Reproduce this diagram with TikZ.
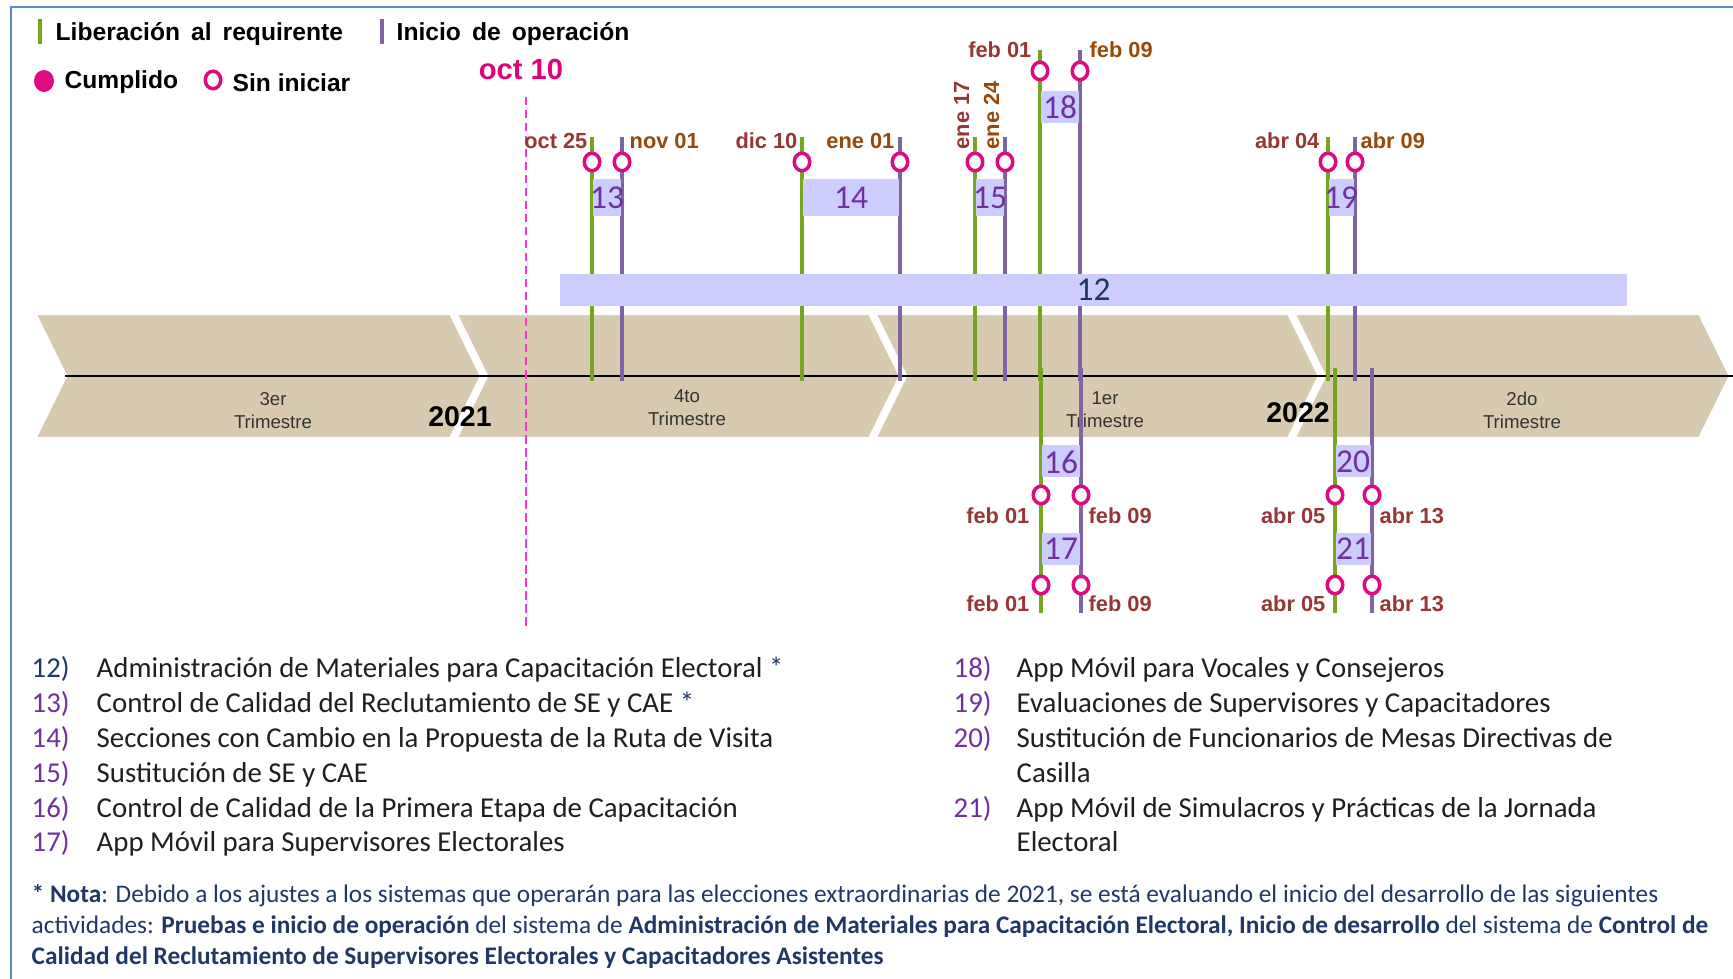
\documentclass[tikz,border=0pt]{standalone}
\usepackage{fontspec}
\setmainfont{Liberation Sans}
\newfontfamily\calibri{Carlito}
\usetikzlibrary{shapes.geometric,positioning}
\definecolor{libgreen}{HTML}{77A520}
\definecolor{opviolet}{HTML}{8064A2}
\definecolor{hitomag}{HTML}{DE0A82}
\definecolor{fechared}{HTML}{953735}
\definecolor{fechaorange}{HTML}{984807}
\definecolor{barlav}{HTML}{CCCCFF}
\definecolor{numviolet}{HTML}{7030A0}
\definecolor{navy}{HTML}{1F3864}
\definecolor{bandtan}{HTML}{D8C9B1}
\definecolor{frameblue}{HTML}{5B8BCB}
\definecolor{cutpink}{HTML}{FF33CC}
\definecolor{octmag}{HTML}{E0007A}
\tikzset{
     libstem/.style  = {libgreen, line width=1pt},
     opstem/.style   = {opviolet, line width=1pt},
     hito/.style     = {ellipse, draw=hitomag, fill=white, line width=1pt,
                        minimum width=1.55mm, minimum height=1.75mm, inner sep=0pt},
     hitodone/.style = {ellipse, fill=hitomag, minimum width=2mm,
                        minimum height=2.2mm, inner sep=0pt},
     qband/.style    = {fill=bandtan, draw=white, line width=1.2pt},
     boxnum/.style   = {font=\calibri\fontsize{9.5}{10}\selectfont, text=numviolet, inner sep=0pt},
     fechaA/.style   = {font=\bfseries\fontsize{6.2}{7}\selectfont, text=fechared, inner sep=0pt},
     fechaB/.style   = {font=\bfseries\fontsize{6.2}{7}\selectfont, text=fechaorange, inner sep=0pt},
     qlabel/.style   = {font=\fontsize{5.3}{6.6}\selectfont, text=black!80, align=center},
     anio/.style     = {font=\bfseries\fontsize{8.1}{9}\selectfont, anchor=base, inner sep=0pt},
     legend/.style   = {font=\bfseries\fontsize{7}{8}\selectfont, anchor=base west, inner sep=0pt},
     listnum/.style  = {font=\calibri\fontsize{8.2}{10}\selectfont, text=numviolet, anchor=base west, inner sep=0pt},
     listtxt/.style  = {font=\calibri\fontsize{8.2}{10}\selectfont, text=black!88, anchor=base west, inner sep=0pt},
     nota/.style     = {font=\calibri\fontsize{7.2}{8}\selectfont, text=navy, anchor=base west, inner sep=0pt},
    }

\begin{document}
\begin{tikzpicture}[x=0.1mm, y=-0.1mm]
    \path[use as bounding box] (0,0) rectangle (1733,979);
    \clip (0,0) rectangle (1733,979);
    \draw[frameblue, line width=0.7pt] (11,7) rectangle (1800,1050);

    % leyenda
    \draw[libstem] (40,19) -- (40,44);
    \node[legend] (leglib) at (55,41) {Liberación\hspace{0.45em}al\hspace{0.45em}requirente};
    \draw[opstem] (382,19) -- (382,44);
    \node[legend] (legop) at (396,41) {Inicio\hspace{0.45em}de\hspace{0.45em}operación};
    \node[hitodone] (legdone) at (44,81) {};
    \node[legend] (legdonetxt) at (64,89) {Cumplido};
    \node[hito] (legopen) at (213,80) {};
    \node[legend] (legopentxt) at (232,92) {Sin iniciar};

    % franja de trimestres
    \path[qband] (34,313) -- (451,313) -- (482,376) -- (451,439) -- (34,439) -- (65,376) -- cycle;
    \path[qband] (455,313) -- (870,313) -- (901,376) -- (870,439) -- (455,439) -- (486,376) -- cycle;
    \path[qband] (874,313) -- (1289,313) -- (1320,376) -- (1289,439) -- (874,439) -- (905,376) -- cycle;
    \path[qband] (1293,313) -- (1700,313) -- (1731,376) -- (1700,439) -- (1293,439) -- (1324,376) -- cycle;
    \draw[black, line width=0.8pt] (65,376) -- (1733,376);
    \node[qlabel] (q3) at (273,411) {3er\\Trimestre};
    \node[qlabel] (q4) at (687,408) {4to\\Trimestre};
    \node[qlabel] (q1) at (1105,410) {1er\\Trimestre};
    \node[qlabel] (q2) at (1522,410) {2do\\Trimestre};
    \node[anio] (y21) at (460,427) {2021};
    \node[anio] (y22) at (1298,423) {2022};

    % corte oct 10
    \node[font=\bfseries\fontsize{8.3}{9}\selectfont, text=octmag, anchor=base, inner sep=0pt] (oct10) at (521,80) {oct 10};
    \draw[cutpink, line width=0.7pt, dash pattern=on 2.4pt off 1.3pt] (526,97) -- (526,626);

    % tallos arriba
    \draw[libstem] (592,137) -- (592,381);
    \draw[opstem] (622,137) -- (622,381);
    \draw[libstem] (802,137) -- (802,381);
    \draw[opstem] (900,137) -- (900,381);
    \draw[libstem] (975,137) -- (975,381);
    \draw[opstem] (1005,137) -- (1005,381);
    \draw[libstem] (1040,50) -- (1040,381);
    \draw[opstem] (1080,50) -- (1080,381);
    \draw[libstem] (1328,137) -- (1328,381);
    \draw[opstem] (1355,137) -- (1355,381);
    % tallos abajo
    \draw[libstem] (1041,368) -- (1041,613);
    \draw[opstem] (1081,368) -- (1081,613);
    \draw[libstem] (1335,368) -- (1335,613);
    \draw[opstem] (1372,368) -- (1372,613);

    % actividades
    \node[fill=barlav, minimum width=106.7mm, minimum height=3.2mm, inner sep=0pt,
          font=\calibri\fontsize{9.5}{10}\selectfont, text=navy] (a12) at (1093.5,290) {12};
    \fill[barlav] (593,179) rectangle (621,216);
    \node[boxnum] (a13) at (607,198) {13};
    \fill[barlav] (803,179) rectangle (899,216);
    \node[boxnum] (a14) at (851,198) {14};
    \fill[barlav] (976,179) rectangle (1004,216);
    \node[boxnum] (a15) at (990,198) {15};
    \fill[barlav] (1041,91) rectangle (1079,123);
    \node[boxnum] (a18) at (1060,107) {18};
    \fill[barlav] (1329,179) rectangle (1354,216);
    \node[boxnum] (a19) at (1341,198) {19};
    \fill[barlav] (1042,445) rectangle (1080,477);
    \node[boxnum] (a16) at (1061,462) {16};
    \fill[barlav] (1042,533) rectangle (1080,565);
    \node[boxnum] (a17) at (1061,549) {17};
    \fill[barlav] (1336,445) rectangle (1371,477);
    \node[boxnum] (a20) at (1353,462) {20};
    \fill[barlav] (1336,533) rectangle (1371,565);
    \node[boxnum] (a21) at (1353,549) {21};

    % hitos
    \node[hito] (h13a) at (592,162) {};
    \node[hito] (h13b) at (622,162) {};
    \node[hito] (h14a) at (802,162) {};
    \node[hito] (h14b) at (900,162) {};
    \node[hito] (h15a) at (975,162) {};
    \node[hito] (h15b) at (1005,162) {};
    \node[hito] (h18a) at (1040,71) {};
    \node[hito] (h18b) at (1080,71) {};
    \node[hito] (h19a) at (1328,162) {};
    \node[hito] (h19b) at (1355,162) {};
    \node[hito] (h16a) at (1041,495) {};
    \node[hito] (h16b) at (1081,495) {};
    \node[hito] (h17a) at (1041,585) {};
    \node[hito] (h17b) at (1081,585) {};
    \node[hito] (h20a) at (1335,495) {};
    \node[hito] (h20b) at (1372,495) {};
    \node[hito] (h21a) at (1335,585) {};
    \node[hito] (h21b) at (1372,585) {};

    % fechas
    \node[fechaA, anchor=base east] (f13a) at (588,149) {oct 25};
    \node[fechaB, anchor=base west] (f13b) at (629,149) {nov 01};
    \node[fechaA, anchor=base east] (f14a) at (798,149) {dic 10};
    \node[fechaB, anchor=base east] (f14b) at (895,149) {ene 01};
    \node[fechaA, anchor=base west, rotate=90] (f15a) at (969,150) {ene 17};
    \node[fechaB, anchor=base west, rotate=90] (f15b) at (999,150) {ene 24};
    \node[fechaA, anchor=base east] (f18a) at (1032,58) {feb 01};
    \node[fechaB, anchor=base west] (f18b) at (1089,58) {feb 09};
    \node[fechaA, anchor=base east] (f19a) at (1320,149) {abr 04};
    \node[fechaB, anchor=base west] (f19b) at (1360,149) {abr 09};
    \node[fechaA, anchor=base east] (f16a) at (1030,524) {feb 01};
    \node[fechaA, anchor=base west] (f16b) at (1088,524) {feb 09};
    \node[fechaA, anchor=base east] (f17a) at (1030,612) {feb 01};
    \node[fechaA, anchor=base west] (f17b) at (1088,612) {feb 09};
    \node[fechaA, anchor=base east] (f20a) at (1326,524) {abr 05};
    \node[fechaA, anchor=base west] (f20b) at (1379,524) {abr 13};
    \node[fechaA, anchor=base east] (f21a) at (1326,612) {abr 05};
    \node[fechaA, anchor=base west] (f21b) at (1379,612) {abr 13};

    % lista de actividades
    \node[listnum, text=navy] (n12) at (31,678) {12)};
    \node[listtxt] (t12) at (96,678) {Administración de Materiales para Capacitación Electoral {\color{navy}*}};
    \node[listnum] (n13) at (31,713) {13)};
    \node[listtxt] (t13) at (96,713) {Control de Calidad del Reclutamiento de SE y CAE {\color{navy}*}};
    \node[listnum] (n14) at (31,748) {14)};
    \node[listtxt] (t14) at (96,748) {Secciones con Cambio en la Propuesta de la Ruta de Visita};
    \node[listnum] (n15) at (31,783) {15)};
    \node[listtxt] (t15) at (96,783) {Sustitución de SE y CAE};
    \node[listnum] (n16) at (31,818) {16)};
    \node[listtxt] (t16) at (96,818) {Control de Calidad de la Primera Etapa de Capacitación};
    \node[listnum] (n17) at (31,852) {17)};
    \node[listtxt] (t17) at (96,852) {App Móvil para Supervisores Electorales};
    \node[listnum] (n18) at (953,678) {18)};
    \node[listtxt] (t18) at (1016,678) {App Móvil para Vocales y Consejeros};
    \node[listnum] (n19) at (953,713) {19)};
    \node[listtxt] (t19) at (1016,713) {Evaluaciones de Supervisores y Capacitadores};
    \node[listnum] (n20) at (953,748) {20)};
    \node[listtxt] (t20) at (1016,748) {Sustitución de Funcionarios de Mesas Directivas de};
    \node[listtxt] (t20b) at (1016,783) {Casilla};
    \node[listnum] (n21) at (953,818) {21)};
    \node[listtxt] (t21) at (1016,818) {App Móvil de Simulacros y Prácticas de la Jornada};
    \node[listtxt] (t21b) at (1016,852) {Electoral};

    % nota
    \node[nota] (nota1) at (31,903) {\textbf{* Nota}: Debido a los ajustes a los sistemas que operarán para las elecciones extraordinarias de 2021, se está evaluando el inicio del desarrollo de las siguientes};
    \node[nota] (nota2) at (31,934) {actividades: \textbf{Pruebas e inicio de operación} del sistema de \textbf{Administración de Materiales para Capacitación Electoral, Inicio de desarrollo} del sistema de \textbf{Control de}};
    \node[nota] (nota3) at (31,965) {\textbf{Calidad del Reclutamiento de Supervisores Electorales y Capacitadores Asistentes}};
\end{tikzpicture}
\end{document}
